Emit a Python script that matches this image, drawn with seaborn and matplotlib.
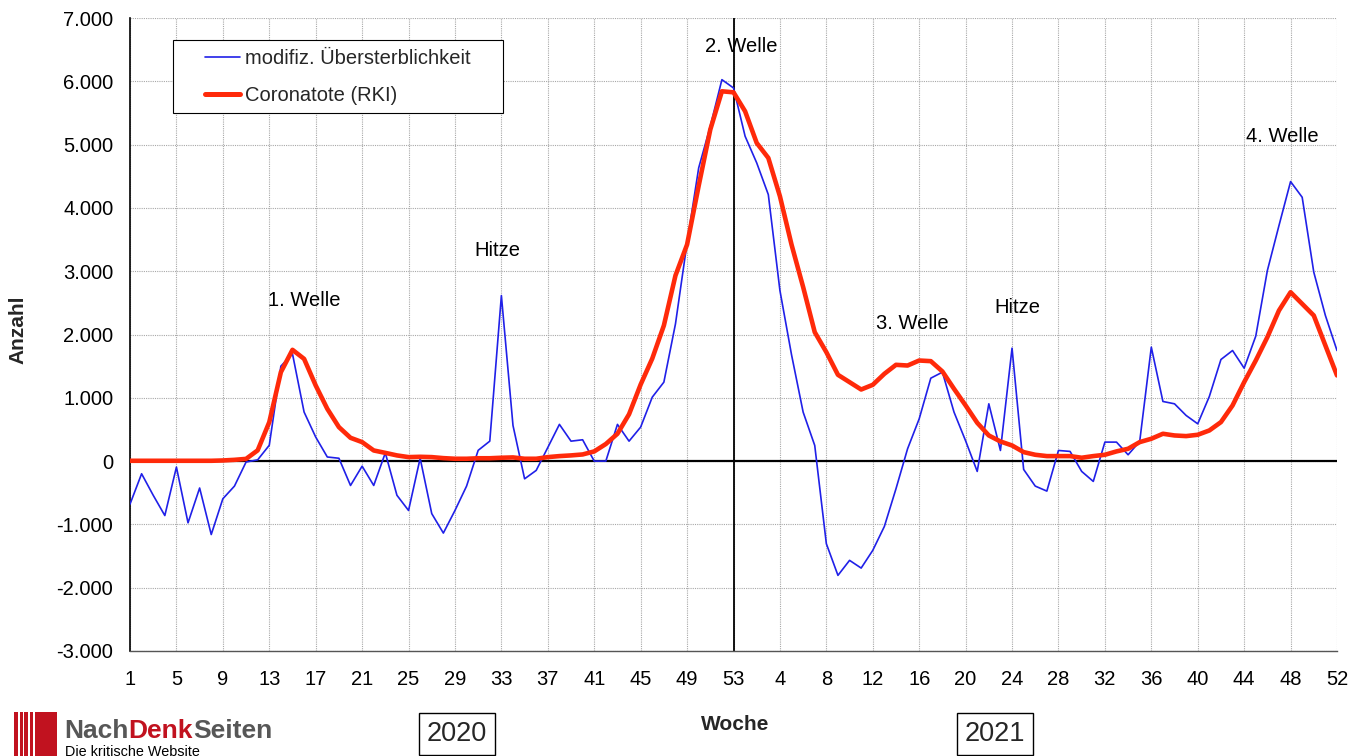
import numpy as np
import pandas as pd
import matplotlib
matplotlib.use("Agg")
import matplotlib.pyplot as plt
from matplotlib.ticker import FuncFormatter, FixedLocator
from matplotlib.patches import Rectangle
from matplotlib.lines import Line2D
import seaborn as sns

# ---- data ----
weeks_2020 = list(range(1, 54))
weeks_2021 = list(range(1, 53))
week_labels = weeks_2020 + weeks_2021

uebersterblichkeit = [
    -680, -200, -540, -860, -95, -975, -425, -1160, -595, -395,
    -15, 20, 250, 1500, 1695, 775, 380, 65, 45, -385,
    -80, -385, 130, -540, -780, 45, -830, -1137, -780, -395,
    170, 315, 2615, 563, -280, -147, 215, 580, 315, 337,
    0, 0, 580, 315, 537, 1010, 1247, 2168, 3450, 4632,
    5290, 6026, 5895,
    5132, 4711, 4210, 2695, 1680, 774, 247, -1305, -1805, -1568,
    -1690, -1410, -1032, -437, 195, 668, 1310, 1405, 774, 320,
    -163, 905, 168, 1784, -132, -395, -474, 168, 153, -163,
    -321, 300, 300, 100, 310, 1800, 942, 905, 721, 589,
    1021, 1605, 1747, 1468, 1974, 3010, 3721, 4416, 4168, 2984,
    2300, 1747,
]

coronatote = [
    5, 5, 5, 5, 5, 5, 5, 5, 10, 20,
    35, 170, 615, 1405, 1758, 1615, 1195, 826, 537, 368,
    300, 168, 130, 90, 63, 68, 63, 47, 37, 37,
    45, 45, 53, 58, 37, 37, 63, 79, 90, 105,
    153, 270, 432, 740, 1210, 1620, 2142, 2932, 3421, 4350,
    5237, 5842, 5826,
    5526, 5026, 4789, 4184, 3420, 2750, 2037, 1721, 1363, 1247,
    1131, 1205, 1379, 1521, 1510, 1589, 1579, 1416, 1142, 879,
    605, 405, 310, 247, 142, 100, 79, 79, 79, 53,
    79, 100, 153, 195, 300, 353, 432, 405, 395, 416,
    484, 616, 879, 1247, 1589, 1958, 2379, 2668, 2484, 2300,
    1826, 1353,
]

series_names = ["modifiz. Übersterblichkeit", "Coronatote (RKI)"]
annotations = [
    ("1. Welle", 15.05, 2530),
    ("Hitze", 31.65, 3320),
    ("2. Welle", 52.7, 6555),
    ("3. Welle", 67.4, 2180),
    ("Hitze", 76.5, 2420),
    ("4. Welle", 99.3, 5135),
]
y_ticks = list(range(-3000, 8000, 1000))

# ---- frame ----
idx = np.arange(len(week_labels))
df = pd.DataFrame({
    "pos": np.concatenate([idx, idx]),
    "wert": uebersterblichkeit + coronatote,
    "serie": [series_names[0]] * len(idx) + [series_names[1]] * len(idx),
})

sns.set_style("white")
plt.rcParams["font.family"] = ["Liberation Sans", "DejaVu Sans"]

W, H = 1365, 756
fig = plt.figure(figsize=(W / 100, H / 100), dpi=100)
ax = fig.add_axes([130 / W, 1 - 651 / H, (1337 - 130) / W, (651 - 18) / H])

blue = "#2020e8"
red = "#ff2a0a"

sns.lineplot(data=df, x="pos", y="wert", hue="serie", hue_order=series_names,
             palette={series_names[0]: blue, series_names[1]: red},
             size="serie", sizes={series_names[0]: 1.2, series_names[1]: 3.3},
             size_order=series_names, ax=ax, legend=False)
ax.lines[0].set_zorder(3)
ax.lines[1].set_zorder(4)

ax.set_xlim(0, len(idx) - 1)
ax.set_ylim(-3000, 7000)

tick_pos = list(range(0, len(idx), 4))
ax.xaxis.set_major_locator(FixedLocator(tick_pos))
ax.set_xticklabels([str(week_labels[p]) for p in tick_pos])
ax.yaxis.set_major_locator(FixedLocator(y_ticks))
ax.yaxis.set_major_formatter(FuncFormatter(lambda v, p: f"{int(v):,}".replace(",", ".")))
ax.grid(True, color="#a8a8a8", linestyle=(0, (1, 1)), linewidth=0.8, zorder=0)
ax.set_axisbelow(True)

for s in ["top", "right"]:
    ax.spines[s].set_visible(False)
ax.spines["left"].set_color("black")
ax.spines["left"].set_linewidth(1.2)
ax.spines["bottom"].set_color("#555555")
ax.spines["bottom"].set_linewidth(1.0)

ax.tick_params(axis="both", which="both", direction="out", length=6, width=1,
               colors="#444444", labelcolor="black", labelsize=14.5)
ax.tick_params(axis="x", pad=8)
ax.tick_params(axis="y", pad=6)

ax.axhline(0, color="black", linewidth=1.6, zorder=2)
ax.axvline(52, color="black", linewidth=1.3, zorder=2)

ax.set_xlabel("")
ax.set_ylabel("")

for txt, xx, yy in annotations:
    ax.text(xx, yy, txt, ha="center", va="center", fontsize=14.5, color="black")

# legend: frame drawn separately to get the wide side padding of the original
frame = Rectangle((173 / W, 1 - 113 / H), 330 / W, 73 / H,
                  transform=fig.transFigure, facecolor="white",
                  edgecolor="black", linewidth=0.8, zorder=5, clip_on=False)
ax.add_patch(frame)
handles = [Line2D([0], [0], color=blue, lw=1.2), Line2D([0], [0], color=red, lw=3.6)]
leg = ax.legend(handles, series_names, loc="upper left",
                bbox_to_anchor=(205 / W, 1 - 49 / H), bbox_transform=fig.transFigure,
                frameon=False, fontsize=14.5,
                handlelength=1.75, handletextpad=0.25, borderpad=0,
                labelspacing=0.9, borderaxespad=0)
leg.set_zorder(6)

fig.text(18 / W, 1 - 330 / H, "Anzahl", rotation=90, ha="center", va="center",
         fontsize=15, fontweight="bold")
fig.text(735 / W, 1 - 724 / H, "Woche", ha="center", va="center",
         fontsize=15, fontweight="bold")

for label, cx in [("2020", 457), ("2021", 995)]:
    fig.text(cx / W, 1 - 734 / H, label, ha="center", va="center", fontsize=19.5,
             bbox=dict(boxstyle="square,pad=0.28", facecolor="white",
                       edgecolor="black", linewidth=1.0))

# logo
logo_red = "#c1121f"
for x0, w in [(14, 3.5), (19.5, 3.5), (24.5, 3.5), (29.5, 3.5), (35, 22)]:
    fig.patches.append(Rectangle((x0 / W, 0), w / W, 44 / H, transform=fig.transFigure,
                                 facecolor=logo_red, edgecolor="none"))
fig.canvas.draw()
renderer = fig.canvas.get_renderer()
xcur = 64
for part, col in [("Nach", "#575757"), ("Denk", logo_red), ("Seiten", "#575757")]:
    t = fig.text(xcur / W, 1 - 738 / H, part, ha="left", va="baseline", fontsize=19,
                 fontweight="bold", color=col)
    bb = t.get_window_extent(renderer=renderer)
    xcur += bb.width
fig.text(65 / W, 1 - 755.5 / H, "Die kritische Website", ha="left", va="baseline",
         fontsize=10.4, color="black")

fig.savefig("out.png", dpi=100, facecolor="white")
